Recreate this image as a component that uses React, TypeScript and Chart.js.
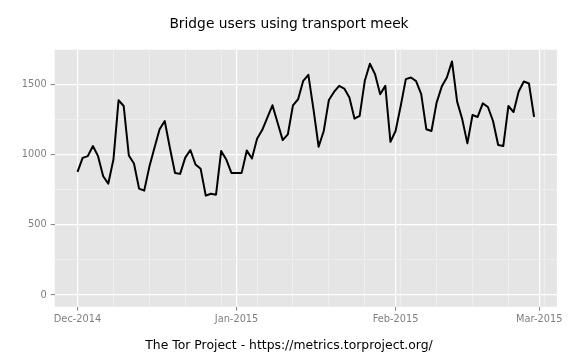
import { useEffect, useRef } from "react";
import { Chart, registerables } from "chart.js";

Chart.register(...registerables);

const TITLE = "Bridge users using transport meek";
const CAPTION = "The Tor Project - https://metrics.torproject.org/";

const dates = [
  "2014-12-01", "2014-12-02", "2014-12-03", "2014-12-04", "2014-12-05", "2014-12-06", "2014-12-07",
  "2014-12-08", "2014-12-09", "2014-12-10", "2014-12-11", "2014-12-12", "2014-12-13", "2014-12-14",
  "2014-12-15", "2014-12-16", "2014-12-17", "2014-12-18", "2014-12-19", "2014-12-20", "2014-12-21",
  "2014-12-22", "2014-12-23", "2014-12-24", "2014-12-25", "2014-12-26", "2014-12-27", "2014-12-28",
  "2014-12-29", "2014-12-30", "2014-12-31", "2015-01-01", "2015-01-02", "2015-01-03", "2015-01-04",
  "2015-01-05", "2015-01-06", "2015-01-07", "2015-01-08", "2015-01-09", "2015-01-10", "2015-01-11",
  "2015-01-12", "2015-01-13", "2015-01-14", "2015-01-15", "2015-01-16", "2015-01-17", "2015-01-18",
  "2015-01-19", "2015-01-20", "2015-01-21", "2015-01-22", "2015-01-23", "2015-01-24", "2015-01-25",
  "2015-01-26", "2015-01-27", "2015-01-28", "2015-01-29", "2015-01-30", "2015-01-31", "2015-02-01",
  "2015-02-02", "2015-02-03", "2015-02-04", "2015-02-05", "2015-02-06", "2015-02-07", "2015-02-08",
  "2015-02-09", "2015-02-10", "2015-02-11", "2015-02-12", "2015-02-13", "2015-02-14", "2015-02-15",
  "2015-02-16", "2015-02-17", "2015-02-18", "2015-02-19", "2015-02-20", "2015-02-21", "2015-02-22",
  "2015-02-23", "2015-02-24", "2015-02-25", "2015-02-26", "2015-02-27", "2015-02-28",
];

const users = [
  876, 976, 988, 1060, 988, 845, 793,
  964, 1386, 1345, 993, 936, 757, 743,
  912, 1048, 1179, 1238, 1048, 869, 862,
  978, 1032, 929, 898, 707, 721, 714,
  1024, 964, 869, 869, 869, 1028, 971,
  1112, 1174, 1262, 1350, 1226, 1102, 1143,
  1350, 1393, 1524, 1567, 1321, 1055, 1167,
  1388, 1445, 1488, 1469, 1405, 1255, 1274,
  1524, 1645, 1571, 1429, 1488, 1090, 1167,
  1345, 1536, 1548, 1522, 1429, 1179, 1167,
  1369, 1483, 1548, 1662, 1376, 1250, 1079,
  1281, 1267, 1364, 1338, 1238, 1067, 1060,
  1345, 1302, 1448, 1519, 1505, 1267,
];

const xMajorTickDates = ["2014-12-01", "2015-01-01", "2015-02-01", "2015-03-01"];
const xMajorTickLabels = ["Dec-2014", "Jan-2015", "Feb-2015", "Mar-2015"];
const xMinorTickDates = [
  "2014-12-08", "2014-12-15", "2014-12-22", "2014-12-29", "2015-01-05", "2015-01-12", "2015-01-19",
  "2015-01-26", "2015-02-02", "2015-02-09", "2015-02-16", "2015-02-23", "2015-03-02",
];
const yMajorTicks = [0, 500, 1000, 1500];
const yMinorTicks = [250, 750, 1250];
const yLimits = [-83, 1745];

const DAY = 86400000;
const dayOf = (s: string) => Math.round((Date.parse(s) - Date.parse(dates[0])) / DAY);

const FONT = "'DejaVu Sans', 'Liberation Sans', sans-serif";

export default function App() {
  const ref = useRef<HTMLCanvasElement | null>(null);

  useEffect(() => {
    if (!ref.current) return;
    const points = dates.map((d, i) => ({ x: dayOf(d), y: users[i] }));
    const first = points[0].x;
    const last = points[points.length - 1].x;
    const span = last - first;
    const xMin = first - 0.05 * span;
    const xMax = last + 0.05 * span;

    const xMajor = xMajorTickDates.map(dayOf);
    const xMinor = xMinorTickDates.map(dayOf);
    const xLabelMap: Record<number, string> = {};
    xMajor.forEach((v, i) => (xLabelMap[v] = xMajorTickLabels[i]));
    const xAll = [...xMajor, ...xMinor].sort((a, b) => a - b);
    const yAll = [...yMajorTicks, ...yMinorTicks].sort((a, b) => a - b);

    const isXMajor = (v: number) => xMajor.includes(v);
    const isYMajor = (v: number) => yMajorTicks.includes(v);

    const panelBg = {
      id: "panelBg",
      beforeDraw(chart: any) {
        const { ctx, chartArea } = chart;
        ctx.save();
        ctx.fillStyle = "#E5E5E5";
        ctx.fillRect(chartArea.left, chartArea.top, chartArea.right - chartArea.left, chartArea.bottom - chartArea.top);
        ctx.restore();
      },
    };

    const chart = new Chart(ref.current, {
      type: "line",
      data: {
        datasets: [
          {
            data: points,
            borderColor: "#000000",
            borderWidth: 2,
            pointRadius: 0,
            tension: 0,
            borderJoinStyle: "round",
            fill: false,
            yAxisID: "y",
          },
        ],
      },
      options: {
        animation: false,
        responsive: false,
        devicePixelRatio: 1,
        events: [],
        layout: { padding: { left: 2, right: 0, top: 0, bottom: 0 } },
        plugins: {
          legend: { display: false },
          tooltip: { enabled: false },
          title: {
            display: true,
            text: TITLE,
            color: "#000000",
            font: { family: FONT, size: 13.8, weight: "normal", lineHeight: 1.2 },
            padding: { top: 15.9, bottom: 17.3 },
          },
          subtitle: {
            display: true,
            position: "bottom",
            text: CAPTION,
            color: "#000000",
            font: { family: FONT, size: 12.4, weight: "normal", lineHeight: 1.2 },
            padding: { top: 12, bottom: 6.4 },
          },
        },
        scales: {
          x: {
            type: "linear",
            min: xMin,
            max: xMax,
            afterBuildTicks: (s: any) => {
              s.ticks = xAll.map((v) => ({ value: v }));
            },
            afterFit: (s: any) => {
              s.height = 20;
            },
            border: { display: false },
            grid: {
              color: (c: any) => (isXMajor(c.tick?.value) ? "#FFFFFF" : "#F0F0F0"),
              lineWidth: (c: any) => (isXMajor(c.tick?.value) ? 1.2 : 0.8),
              tickColor: (c: any) => (isXMajor(c.tick?.value) ? "#7F7F7F" : "rgba(0,0,0,0)"),
              tickLength: 4,
              tickWidth: 1,
            },
            ticks: {
              autoSkip: false,
              maxRotation: 0,
              minRotation: 0,
              padding: 3.3,
              color: "#7F7F7F",
              font: { family: FONT, size: 9.8 },
              callback: (v: any) => xLabelMap[v as number] ?? "",
            },
          },
          y: {
            type: "linear",
            position: "left",
            min: yLimits[0],
            max: yLimits[1],
            afterBuildTicks: (s: any) => {
              s.ticks = yAll.map((v) => ({ value: v }));
            },
            afterFit: (s: any) => {
              s.width = 52.7;
            },
            border: { display: false },
            grid: {
              color: (c: any) => (isYMajor(c.tick?.value) ? "#FFFFFF" : "#F0F0F0"),
              lineWidth: (c: any) => (isYMajor(c.tick?.value) ? 1.2 : 0.8),
              tickColor: (c: any) => (isYMajor(c.tick?.value) ? "#7F7F7F" : "rgba(0,0,0,0)"),
              tickLength: 4,
              tickWidth: 1,
            },
            ticks: {
              autoSkip: false,
              padding: 4,
              color: "#7F7F7F",
              font: { family: FONT, size: 9.8 },
              callback: (v: any) => (isYMajor(v as number) ? String(v) : ""),
            },
          },
          yRight: {
            type: "linear",
            position: "right",
            display: true,
            border: { display: false },
            grid: { display: false, drawOnChartArea: false, drawTicks: false },
            ticks: { display: false },
            afterFit: (s: any) => {
              s.width = 19.1;
            },
          },
        },
      } as any,
      plugins: [panelBg],
    });

    return () => chart.destroy();
  }, []);

  return (
    <div style={{ position: "absolute", left: 0, top: 0, width: 576, height: 360, background: "#FFFFFF" }}>
      <canvas ref={ref} width={576} height={360} style={{ display: "block", width: 576, height: 360 }} />
    </div>
  );
}
